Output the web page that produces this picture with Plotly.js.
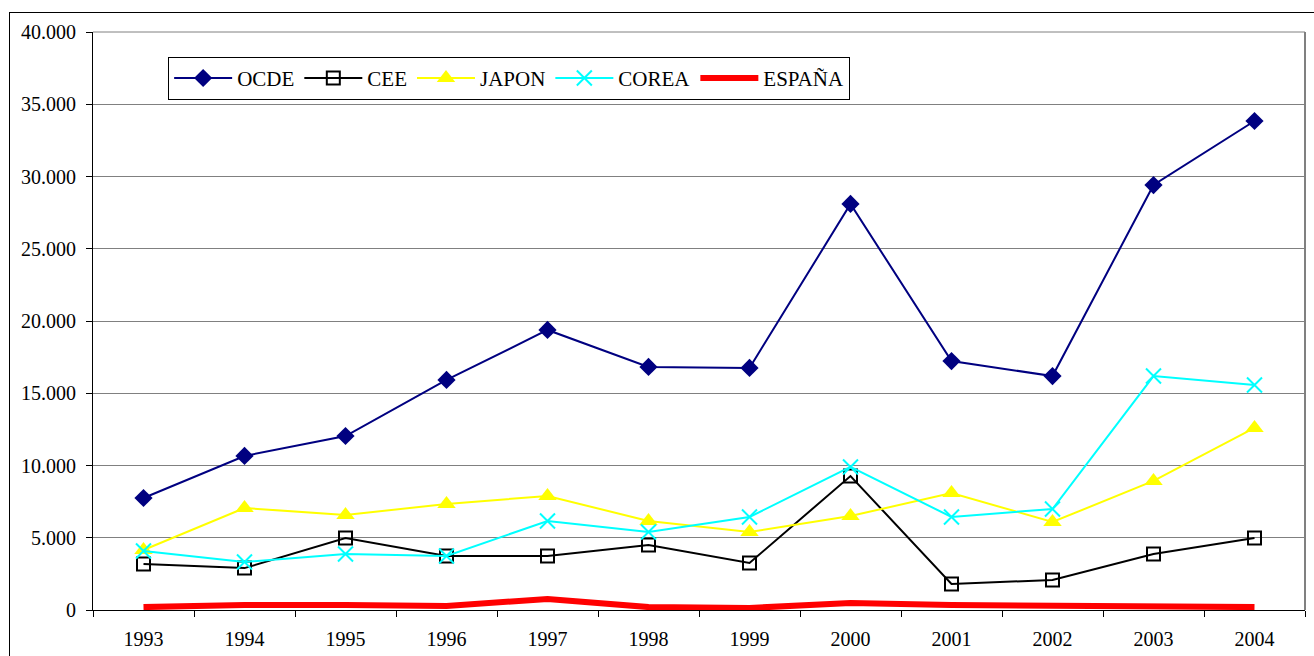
<!DOCTYPE html>
<html>
<head>
<meta charset="utf-8">
<script src="https://cdn.plot.ly/plotly-3.0.1.min.js"></script>
<style>
html,body{margin:0;padding:0;overflow:hidden;background:#fff;}
#wrap{position:relative;width:1314px;height:656px;}
#chart{width:1314px;height:656px;}
#frame{position:absolute;left:9px;top:12px;width:1320px;height:660px;border:1px solid #000;pointer-events:none;box-sizing:border-box;}
</style>
</head>
<body>
<div id="wrap"><div id="chart"></div><div id="frame"></div></div>
<script>
const years = ["1993","1994","1995","1996","1997","1998","1999","2000","2001","2002","2003","2004"];
const ocde  = [7750,10660,12040,15920,19380,16820,16750,28100,17230,16190,29410,33840];
const cee   = [3180,2900,4980,3740,3740,4500,3250,9270,1800,2080,3880,4980];
const japon = [4150,7060,6570,7340,7890,6160,5400,6500,8100,6090,8930,12600];
const corea = [4080,3320,3880,3740,6160,5400,6440,9900,6440,6990,16190,15570];
const espana= [200,350,350,280,760,200,140,480,350,280,200,200];
const yTicks = [0,5000,10000,15000,20000,25000,30000,35000,40000];

const FONT = "Liberation Serif";

const traces = [
  {x:years,y:ocde,name:"OCDE",mode:"lines+markers",line:{color:"#000080",width:2},
   marker:{symbol:"diamond",size:14,color:"#000080"}},
  {x:years,y:cee,name:"CEE",mode:"lines+markers",line:{color:"#000000",width:2},
   marker:{symbol:"square-open",size:13,color:"#000000",line:{width:2,color:"#000000"}}},
  {x:years,y:japon,name:"JAPON",mode:"lines+markers",line:{color:"#FFFF00",width:2},
   marker:{symbol:"triangle-up",size:16,color:"#FFFF00"}},
  {x:years,y:corea,name:"COREA",mode:"lines+markers",line:{color:"#00FFFF",width:2},
   marker:{symbol:"x-thin",size:15,color:"#00FFFF",line:{width:2,color:"#00FFFF"}}},
  {x:years,y:espana,name:"ESPAÑA",mode:"lines",line:{color:"#FF0000",width:6}}
];

const layout = {
  width:1314,height:656,
  margin:{l:93,r:9,t:32,b:46},
  paper_bgcolor:"#fff",plot_bgcolor:"#fff",
  separators:",.",
  font:{family:FONT,size:20,color:"#000"},
  showlegend:true,
  legend:{orientation:"h",x:0.062,y:0.957,xanchor:"left",yanchor:"top",
    bordercolor:"#000",borderwidth:1,bgcolor:"#fff",
    font:{family:FONT,size:21,color:"#000"},
    itemwidth:58,tracegroupgap:0,itemclick:false},
  xaxis:{type:"category",range:[-0.5,11.5],tickson:"boundaries",ticks:"outside",ticklen:6,tickcolor:"#000",
    showline:true,linecolor:"#000",linewidth:1,mirror:false,showgrid:false,
    ticklabelstandoff:11,fixedrange:true,
    tickfont:{family:FONT,size:20,color:"#000"}},
  yaxis:{range:[0,40000],tickvals:yTicks,tickformat:",d",ticks:"outside",ticklen:6,tickcolor:"#000",
    showline:true,linecolor:"#000",linewidth:1,showgrid:true,gridcolor:"#808080",gridwidth:1,
    zeroline:false,fixedrange:true,ticklabelstandoff:6,
    tickfont:{family:FONT,size:20,color:"#000"}},
  shapes:[
    {type:"line",xref:"paper",yref:"paper",x0:1,x1:1,y0:0,y1:1,line:{color:"#808080",width:2}},
    {type:"line",xref:"paper",yref:"paper",x0:0,x1:1,y0:1,y1:1,line:{color:"#808080",width:1}}
  ]
};

Plotly.newPlot("chart",traces,layout,{displayModeBar:false,staticPlot:true});
</script>
</body>
</html>
